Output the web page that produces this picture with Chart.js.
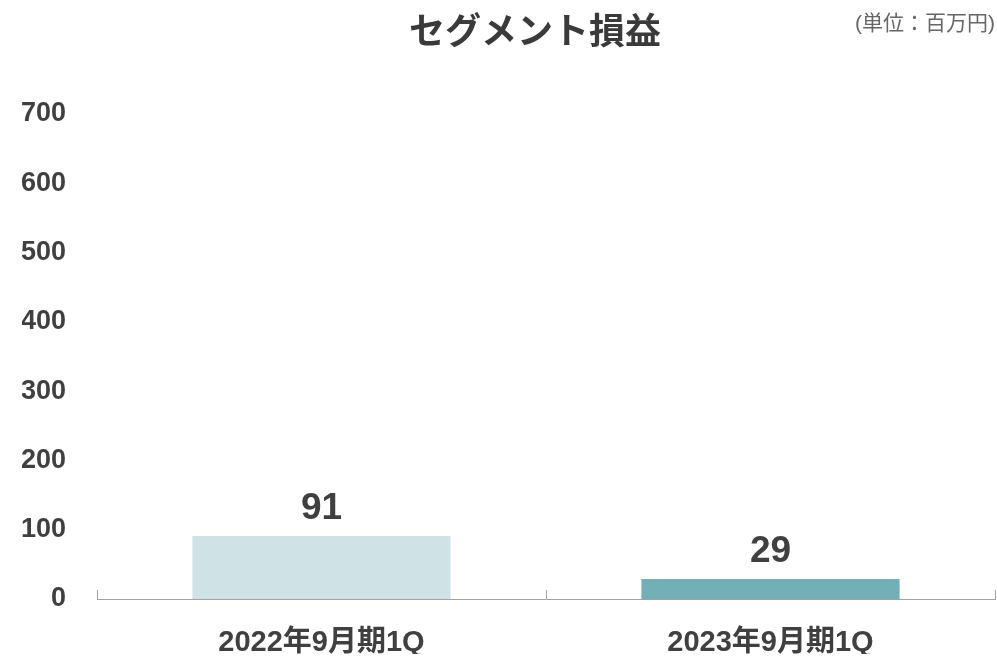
<!DOCTYPE html>
<html lang="ja">
<head>
<meta charset="utf-8">
<title>セグメント損益</title>
<script src="https://cdn.jsdelivr.net/npm/chart.js@4"></script>
<style>
  html, body { margin: 0; padding: 0; background: #fff; }
  #wrap { width: 997px; height: 656px; }
</style>
</head>
<body>
<div id="wrap"><canvas id="segmentChart" width="997" height="656"></canvas></div>
<script>
// 期別のセグメント損益（百万円）
const periods = ['2022年9月期1Q', '2023年9月期1Q'];
const segmentProfit = [91, 29];
const barColors = ['#cfe3e6', '#72afb6'];
const yTicks = [0, 100, 200, 300, 400, 500, 600, 700];

const FONT = '"Liberation Sans", "Noto Sans CJK JP", sans-serif';
const TEXT = '#404040';
const AXIS = '#a3a3a3';

// タイトルと単位表記
const headerText = {
    id: 'headerText',
    afterDraw(chart) {
        const ctx = chart.ctx;
        ctx.save();
        ctx.fillStyle = '#3a3a3a';
        ctx.textAlign = 'center';
        ctx.textBaseline = 'middle';
        ctx.font = 'bold 36px ' + FONT;
        ctx.fillText('セグメント損益', 535, 34);
        ctx.fillStyle = '#666';
        ctx.textAlign = 'right';
        ctx.font = '21px ' + FONT;
        ctx.fillText('(単位：百万円)', 995, 24);
        ctx.restore();
    }
};

// 棒の上に値を表示
const valueLabels = {
    id: 'valueLabels',
    afterDatasetsDraw(chart) {
        const ctx = chart.ctx;
        const meta = chart.getDatasetMeta(0);
        ctx.save();
        ctx.fillStyle = TEXT;
        ctx.textAlign = 'center';
        ctx.textBaseline = 'bottom';
        ctx.font = 'bold 37px ' + FONT;
        meta.data.forEach((bar, i) => {
            ctx.fillText(String(segmentProfit[i]), bar.x, bar.y - 9);
        });
        ctx.restore();
    }
};

// X軸の区切り線（上向き）
const axisTicks = {
    id: 'axisTicks',
    afterDraw(chart) {
        const x = chart.scales.x;
        const ctx = chart.ctx;
        const marks = [x.left, x.right];
        for (let i = 1; i < periods.length; i++) {
            marks.push((x.getPixelForValue(i - 1) + x.getPixelForValue(i)) / 2);
        }
        ctx.save();
        ctx.strokeStyle = AXIS;
        ctx.lineWidth = 1;
        ctx.beginPath();
        marks.forEach(px => {
            const p = Math.min(Math.round(px), chart.width - 1) + 0.5;
            ctx.moveTo(p, x.top);
            ctx.lineTo(p, x.top - 9);
        });
        ctx.stroke();
        ctx.restore();
    }
};

const ctx = document.getElementById('segmentChart').getContext('2d');
const segmentChart = new Chart(ctx, {
    type: 'bar',
    data: {
        labels: periods,
        datasets: [{
            label: 'セグメント損益',
            data: segmentProfit,
            backgroundColor: barColors,
            borderWidth: 0,
            barPercentage: 0.575,
            categoryPercentage: 1
        }]
    },
    options: {
        responsive: false,
        animation: false,
        devicePixelRatio: 1,
        layout: {
            padding: { top: 114, left: 22, right: 2, bottom: 2 }
        },
        plugins: {
            legend: { display: false },
            tooltip: { enabled: false }
        },
        scales: {
            y: {
                min: 0,
                max: 700,
                afterBuildTicks(axis) {
                    axis.ticks = yTicks.map(v => ({ value: v }));
                },
                afterFit(axis) {
                    axis.width = 75;
                },
                grid: { display: false, drawTicks: false },
                border: { display: false },
                ticks: {
                    padding: 31,
                    color: TEXT,
                    font: { family: FONT, size: 27, weight: 'bold', lineHeight: 1 }
                }
            },
            x: {
                afterFit(axis) {
                    axis.height = 55;
                },
                grid: { display: false, drawTicks: false },
                border: { display: true, color: AXIS, width: 1 },
                ticks: {
                    padding: 29,
                    color: TEXT,
                    font: { family: FONT, size: 29, weight: 'bold', lineHeight: 1 }
                }
            }
        }
    },
    plugins: [headerText, valueLabels, axisTicks]
});
</script>
</body>
</html>
